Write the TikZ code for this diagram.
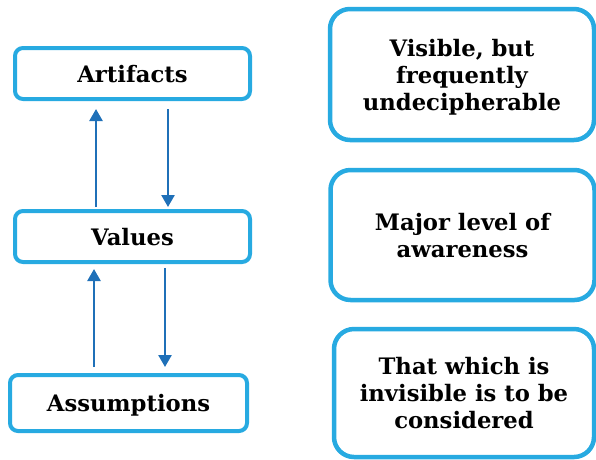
\documentclass[tikz,border=0pt]{standalone}
\usepackage{fontspec}
\setmainfont{DejaVu Serif}
\usetikzlibrary{arrows.meta,positioning}
\definecolor{boxcyan}{HTML}{27AAE1}
\definecolor{arrowblue}{HTML}{1F70B8}
\tikzset{
  lvl/.style={draw=boxcyan,line width=4pt,rounded corners=8pt,outer sep=0pt,
    minimum width=235pt,minimum height=51pt,align=center,text depth=0pt,
    font=\bfseries\fontsize{22.7}{27}\selectfont},
  note/.style={draw=boxcyan,line width=4.5pt,rounded corners=20pt,outer sep=0pt,
    minimum width=264pt,minimum height=130pt,align=center,text depth=0pt,
    font=\bfseries\fontsize{22.7}{27}\selectfont},
  flow/.style={arrowblue,line width=2.5pt,-{Triangle[length=12pt,width=13pt]}}
}
\begin{document}
\begin{tikzpicture}[x=1pt,y=-1pt]
\useasboundingbox (0,0) rectangle (596,459);
\node[lvl](ARTI) at (132.5,73.5){Artifacts};
\node[lvl,below=112pt of ARTI](VALU){Values};
\node[lvl,below=113pt of VALU,xshift=-4pt,minimum width=237pt,minimum height=56pt](ASSU){Assumptions};
\node[note,right=80pt of ARTI,yshift=-1pt,minimum height=131pt](VIS){Visible, but\\frequently\\undecipherable};
\node[note,below=30pt of VIS,xshift=0.5pt](AWARE){Major level of\\awareness};
\node[note,below=29pt of AWARE,xshift=1.5pt,minimum width=260pt,minimum height=128pt](INVIS){That which is\\invisible is to be\\considered};
\draw[flow,shorten <=4pt,shorten >=10pt]([xshift=-36.5pt]VALU.north)--([xshift=-36.5pt]ARTI.south);
\draw[flow,shorten <=10pt,shorten >=4pt]([xshift=35.5pt]ARTI.south)--([xshift=35.5pt]VALU.north);
\draw[flow,shorten <=8pt,shorten >=7pt]([xshift=-34.5pt]ASSU.north)--([xshift=-38.5pt]VALU.south);
\draw[flow,shorten <=6pt,shorten >=8pt]([xshift=32.5pt]VALU.south)--([xshift=36.5pt]ASSU.north);
\end{tikzpicture}
\end{document}
